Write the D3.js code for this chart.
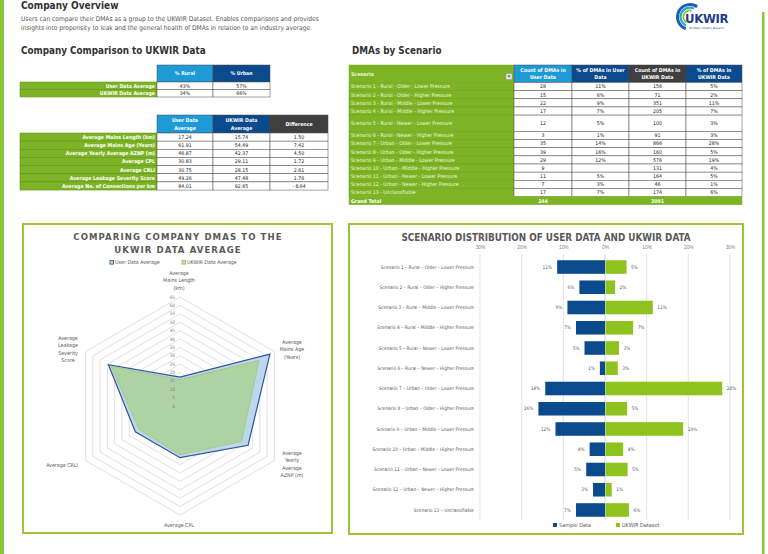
<!DOCTYPE html>
<html>
<head>
<meta charset="utf-8">
<title>Company Overview</title>
<script src="https://cdnjs.cloudflare.com/ajax/libs/d3/7.8.5/d3.min.js"></script>
<style>
    body { margin: 0; background: #fff; }
    svg { display: block; font-family: "DejaVu Sans Condensed", "DejaVu Sans", sans-serif; }
</style>
</head>
<body>
<svg id="page" width="768" height="554"></svg>
<script>
// ---- data ----
const ruralUrbanRows = ["User Data Average", "UKWIR Data Average"];
const pctRural = ["43%", "34%"];
const pctUrban = ["57%", "66%"];

const metricNames = [
    "Average Mains Length (km)",
    "Average Mains Age (Years)",
    "Average Yearly Average AZNP (m)",
    "Average CPL",
    "Average CRLI",
    "Average Leakage Severity Score",
    "Average No. of Connections per km"
];
const userAvg = [17.24, 61.91, 46.87, 30.83, 30.75, 49.26, 84.01];
const ukwirAvg = [15.74, 54.49, 42.37, 29.11, 28.15, 47.48, 92.65];
const avgDiff = [1.50, 7.42, 4.50, 1.72, 2.61, 1.76, -8.64];

const scenarios = [
    "Scenario 1 – Rural – Older – Lower Pressure",
    "Scenario 2 – Rural – Older – Higher Pressure",
    "Scenario 3 – Rural – Middle – Lower Pressure",
    "Scenario 4 – Rural – Middle – Higher Pressure",
    "Scenario 5 – Rural – Newer – Lower Pressure",
    "Scenario 6 – Rural – Newer – Higher Pressure",
    "Scenario 7 – Urban – Older – Lower Pressure",
    "Scenario 8 – Urban – Older – Higher Pressure",
    "Scenario 9 – Urban – Middle – Lower Pressure",
    "Scenario 10 – Urban – Middle – Higher Pressure",
    "Scenario 11 – Urban – Newer – Lower Pressure",
    "Scenario 12 – Urban – Newer – Higher Pressure",
    "Scenario 13 – Unclassifiable"
];
const userCount = [28, 15, 22, 17, 12, 3, 35, 39, 29, 9, 11, 7, 17];
const userPct = ["11%", "6%", "9%", "7%", "5%", "1%", "14%", "16%", "12%", "", "5%", "3%", "7%"];
const ukwirCount = [156, 71, 351, 205, 100, 91, 866, 160, 576, 131, 164, 46, 174];
const ukwirPct = ["5%", "2%", "11%", "7%", "3%", "3%", "28%", "5%", "19%", "4%", "5%", "1%", "6%"];
const totalUser = 244;
const totalUkwir = 3091;

// radar uses the first six metrics
const radarUser = userAvg.slice(0, 6);
const radarUkwir = ukwirAvg.slice(0, 6);
const radarTicks = [0, 5, 10, 15, 20, 25, 30, 35, 40, 45, 50, 55, 60, 65];
const barTicks = [-0.3, -0.2, -0.1, 0, 0.1, 0.2, 0.3];

// ---- styles ----
const GREEN = "#7db425";
const LIME = "#8dc21f";
const LBLUE = "#1e9ad6";
const DBLUE = "#0c4a8e";
const DGRAY = "#3f3f3f";
const FRAME = "#9cc53b";

const svg = d3.select("#page");

function lines(g, x, y, arr, lh, attrs) {
    const t = g.append("text").attr("x", x).attr("y", y);
    Object.entries(attrs || {}).forEach(([k, v]) => t.attr(k, v));
    arr.forEach((s, i) => t.append("tspan").attr("x", x).attr("dy", i ? lh : 0).text(s));
    return t;
}

// page frame
svg.append("rect").attr("x", 0).attr("y", 0).attr("width", 4).attr("height", 554).attr("fill", "#8cc43c");
svg.append("rect").attr("x", 762).attr("y", 12).attr("width", 2.5).attr("height", 542).attr("fill", "#8cc43c");

// headings
svg.append("text").attr("x", 21).attr("y", 9).attr("font-size", 10).attr("font-weight", "bold")
    .attr("fill", "#333").text("Company Overview");
lines(svg, 21, 21, [
    "Users can compare their DMAs as a group to the UKWIR Dataset. Enables comparisons and provides",
    "insights into propensity to leak and the general health of DMAs in relation to an industry average."
], 9, { "font-size": 6.6, fill: "#555" });
svg.append("text").attr("x", 21).attr("y", 54).attr("font-size", 9.8).attr("font-weight", "bold")
    .attr("fill", "#333").text("Company Comparison to UKWIR Data");
svg.append("text").attr("x", 352).attr("y", 54).attr("font-size", 9.8).attr("font-weight", "bold")
    .attr("fill", "#333").text("DMAs by Scenario");

// logo: swoosh arcs opening to the right
const logo = svg.append("g").attr("transform", "translate(690,17)");
const deg = Math.PI / 180;
[[14, 3, "#1d5fae", 200, 395], [10.5, 2.2, "#27a7d9", 205, 385], [7.5, 1.8, LIME, 212, 372]]
    .forEach(([r, w, c, a0, a1]) => {
        logo.append("path").attr("fill", c)
            .attr("d", d3.arc()({ innerRadius: r - w, outerRadius: r, startAngle: a0 * deg, endAngle: a1 * deg }));
    });
svg.append("text").attr("x", 685).attr("y", 23).attr("font-size", 13).attr("font-weight", "bold")
    .attr("fill", "#1f3d8c").attr("letter-spacing", -0.3).text("UKWIR");
svg.append("text").attr("x", 689).attr("y", 29).attr("font-size", 2.8)
    .attr("fill", "#1f3d8c").text("UK Water Industry Research");

// ---- tables ----
function cell(g, x0, x1, y, h, fill, str, opts) {
    opts = opts || {};
    g.append("rect").attr("x", x0).attr("y", y).attr("width", x1 - x0).attr("height", h)
        .attr("fill", fill).attr("stroke", opts.stroke || "#4a4a4a").attr("stroke-width", opts.sw || 0.5);
    if (!str) return;
    const arr = Array.isArray(str) ? str : [str];
    const anchor = opts.anchor || "middle";
    const tx = anchor === "middle" ? (x0 + x1) / 2 : anchor === "end" ? x1 - 2 : x0 + 2;
    const fs = opts.fs || 5.2;
    const lh = fs * 1.45;
    const ty = y + h / 2 - (arr.length - 1) * lh / 2 + fs * 0.36;
    lines(g, tx, ty, arr, lh, {
        "font-size": fs, "text-anchor": anchor, fill: opts.color || "#222",
        "font-weight": opts.bold ? "bold" : "normal"
    });
}

const t1 = svg.append("g");
const c1 = [20, 157, 213, 270];
cell(t1, c1[1], c1[2], 65, 17, LBLUE, "% Rural", { color: "#fff", bold: true });
cell(t1, c1[2], c1[3], 65, 17, DBLUE, "% Urban", { color: "#fff", bold: true });
ruralUrbanRows.forEach((r, i) => {
    const y = 82 + i * 7.5;
    cell(t1, c1[0], c1[1], y, 7.5, GREEN, r, { anchor: "end", color: "#fff", bold: true, stroke: "#5d8a17" });
    cell(t1, c1[1], c1[2], y, 7.5, "#fff", pctRural[i]);
    cell(t1, c1[2], c1[3], y, 7.5, "#fff", pctUrban[i]);
});

const t2 = svg.append("g");
const c2 = [20, 157, 213, 270, 328];
cell(t2, c2[1], c2[2], 115, 18, LBLUE, ["User Data", "Average"], { color: "#fff", bold: true });
cell(t2, c2[2], c2[3], 115, 18, DBLUE, ["UKWIR Data", "Average"], { color: "#fff", bold: true });
cell(t2, c2[3], c2[4], 115, 18, DGRAY, "Difference", { color: "#fff", bold: true });
metricNames.forEach((m, i) => {
    const y = 133 + i * 8.15;
    cell(t2, c2[0], c2[1], y, 8.15, GREEN, m, { anchor: "end", color: "#fff", bold: true, stroke: "#5d8a17" });
    cell(t2, c2[1], c2[2], y, 8.15, "#fff", userAvg[i].toFixed(2));
    cell(t2, c2[2], c2[3], y, 8.15, "#fff", ukwirAvg[i].toFixed(2));
    cell(t2, c2[3], c2[4], y, 8.15, "#fff", avgDiff[i].toFixed(2).replace("-", "- "));
});

const t3 = svg.append("g");
const c3 = [349, 514, 572, 629, 686, 742];
cell(t3, c3[0], c3[1], 65, 17.5, GREEN, "Scenario", { anchor: "start", color: "#f0f8e0", bold: true, stroke: GREEN });
t3.append("rect").attr("x", 506).attr("y", 73.5).attr("width", 6).attr("height", 6)
    .attr("fill", "#e6e6e6").attr("stroke", "#888").attr("stroke-width", 0.4);
t3.append("path").attr("d", "M507.5,75.5 L510.5,75.5 L509,77.5 Z").attr("fill", "#444");
cell(t3, c3[1], c3[2], 65, 17.5, LBLUE, ["Count of DMAs in", "User Data"], { color: "#fff", bold: true });
cell(t3, c3[2], c3[3], 65, 17.5, DBLUE, ["% of DMAs in User", "Data"], { color: "#fff", bold: true });
cell(t3, c3[3], c3[4], 65, 17.5, DGRAY, ["Count of DMAs in", "UKWIR Data"], { color: "#fff", bold: true });
cell(t3, c3[4], c3[5], 65, 17.5, DBLUE, ["% of DMAs in", "UKWIR Data"], { color: "#fff", bold: true });
let ry = 82.5;
scenarios.forEach((s, i) => {
    const h = i === 4 ? 16.3 : 8.15;
    cell(t3, c3[0], c3[1], ry, h, GREEN, s.replace(/–/g, "-"), { anchor: "start", color: "#eef7dc", stroke: "#6a9c1c" });
    cell(t3, c3[1], c3[2], ry, h, "#fff", String(userCount[i]));
    cell(t3, c3[2], c3[3], ry, h, "#fff", userPct[i]);
    cell(t3, c3[3], c3[4], ry, h, "#fff", String(ukwirCount[i]));
    cell(t3, c3[4], c3[5], ry, h, "#fff", ukwirPct[i]);
    ry += h;
});
cell(t3, c3[0], c3[5], ry, 8.15, GREEN, "Grand Total", { anchor: "start", color: "#fff", bold: true, stroke: GREEN });
cell(t3, c3[1], c3[2], ry, 8.15, "none", String(totalUser), { color: "#fff", bold: true, stroke: "none" });
cell(t3, c3[3], c3[4], ry, 8.15, "none", String(totalUkwir), { color: "#fff", bold: true, stroke: "none" });

// ---- radar chart ----
const rp = svg.append("g");
rp.append("rect").attr("x", 23).attr("y", 224).attr("width", 309).attr("height", 309)
    .attr("fill", "#fff").attr("stroke", FRAME).attr("stroke-width", 2);
lines(rp, 178, 240, ["COMPARING COMPANY DMAS TO THE", "UKWIR DATA AVERAGE"], 12.5, {
    "font-size": 9.5, "font-weight": "bold", "text-anchor": "middle", fill: "#595959", "letter-spacing": 1.1
});
// legend
rp.append("rect").attr("x", 110).attr("y", 260.5).attr("width", 3.6).attr("height", 3.6)
    .attr("fill", "#bdd7ee").attr("stroke", "#2f5597").attr("stroke-width", 0.8);
rp.append("text").attr("x", 115).attr("y", 264).attr("font-size", 5.3).attr("fill", "#595959").text("User Data Average");
rp.append("rect").attr("x", 182).attr("y", 260.5).attr("width", 3.6).attr("height", 3.6)
    .attr("fill", "#c5e0b4").attr("stroke", "#8fbf5f").attr("stroke-width", 0.8);
rp.append("text").attr("x", 187).attr("y", 264).attr("font-size", 5.3).attr("fill", "#595959").text("UKWIR Data Average");

const cx = 180, cy = 406;
const rScale = d3.scaleLinear().domain([0, 65]).range([0, 109]);
const nAx = radarUser.length;
const ang = i => i * 2 * Math.PI / nAx;
const radial = d3.lineRadial().angle((d, i) => ang(i)).radius(d => rScale(d)).curve(d3.curveLinearClosed);
const rg = rp.append("g").attr("transform", `translate(${cx},${cy})`);

radarTicks.slice(1).forEach(t => {
    rg.append("path").attr("d", radial(d3.range(nAx).map(() => t)))
        .attr("fill", "none").attr("stroke", "#d9d9d9").attr("stroke-width", 0.8);
});
rg.append("path").attr("d", radial(radarUser))
    .attr("fill", "#bdd7ee").attr("stroke", "#2f5597").attr("stroke-width", 1.2);
rg.append("path").attr("d", radial(radarUkwir))
    .attr("fill", "#a9d18e").attr("fill-opacity", 0.78).attr("stroke", "#9bc97a").attr("stroke-width", 0.8);
radarTicks.forEach(t => {
    rg.append("text").attr("x", -5).attr("y", -rScale(t) + 1.6).attr("text-anchor", "end")
        .attr("font-size", 4.6).attr("fill", "#7f7f7f").text(t);
});

const axisLabels = [
    { l: ["Average", "Mains Length", "(km)"], x: 179, y: 275 },
    { l: ["Average", "Mains Age", "(Years)"], x: 292, y: 344 },
    { l: ["Average", "Yearly", "Average", "AZNP (m)"], x: 292, y: 455 },
    { l: ["Average CPL"], x: 179, y: 527 },
    { l: ["Average CRLI"], x: 62, y: 467 },
    { l: ["Average", "Leakage", "Severity", "Score"], x: 68, y: 340 }
];
axisLabels.forEach(a => lines(rp, a.x, a.y, a.l, 7.3, { "font-size": 5.3, "text-anchor": "middle", fill: "#595959" }));

// ---- bar chart ----
const bp = svg.append("g");
bp.append("rect").attr("x", 349).attr("y", 224).attr("width", 394).attr("height", 310)
    .attr("fill", "#fff").attr("stroke", FRAME).attr("stroke-width", 2);
bp.append("text").attr("x", 546).attr("y", 241).attr("text-anchor", "middle").attr("font-size", 9.8)
    .attr("font-weight", "bold").attr("fill", "#595959").text("SCENARIO DISTRIBUTION OF USER DATA AND UKWIR DATA");

const x = d3.scaleLinear().domain([-0.3, 0.3]).range([480, 730]);
const y = d3.scaleBand().domain(scenarios).range([257, 520]).paddingInner(0.33).paddingOuter(0.16);
const userShare = userCount.map(c => c / totalUser);
const ukwirShare = ukwirCount.map(c => c / totalUkwir);
const pctFmt = d3.format(".0%");

bp.append("g").selectAll("line").data(barTicks).join("line")
    .attr("x1", d => x(d)).attr("x2", d => x(d)).attr("y1", 254).attr("y2", 520)
    .attr("stroke", d => d === 0 ? "#b4c7e7" : "#d9d9d9").attr("stroke-width", 0.7);

const ax = bp.append("g").attr("transform", "translate(0,252)")
    .call(d3.axisTop(x).tickValues(barTicks).tickSize(0).tickFormat(d => Math.round(Math.abs(d) * 100) + "%"));
ax.select(".domain").remove();
ax.selectAll("text").attr("font-size", 4.8).attr("fill", "#7f7f7f").attr("font-family", null);

bp.append("g").selectAll("rect").data(scenarios).join("rect")
    .attr("x", (d, i) => x(-userShare[i])).attr("y", d => y(d))
    .attr("width", (d, i) => x(0) - x(-userShare[i])).attr("height", y.bandwidth())
    .attr("fill", DBLUE);
bp.append("g").selectAll("rect").data(scenarios).join("rect")
    .attr("x", x(0) + 0.5).attr("y", d => y(d))
    .attr("width", (d, i) => x(ukwirShare[i]) - x(0)).attr("height", y.bandwidth())
    .attr("fill", LIME);

const lblY = d => y(d) + y.bandwidth() / 2 + 1.7;
bp.append("g").selectAll("text").data(scenarios).join("text")
    .attr("x", (d, i) => x(-userShare[i]) - 5).attr("y", lblY).attr("text-anchor", "end")
    .attr("font-size", 4.8).attr("fill", "#595959").text((d, i) => pctFmt(userShare[i]));
bp.append("g").selectAll("text").data(scenarios).join("text")
    .attr("x", (d, i) => x(ukwirShare[i]) + 5).attr("y", lblY)
    .attr("font-size", 4.8).attr("fill", "#595959").text((d, i) => pctFmt(ukwirShare[i]));
bp.append("g").selectAll("text").data(scenarios).join("text")
    .attr("x", 474).attr("y", lblY).attr("text-anchor", "end")
    .attr("font-size", 4.8).attr("fill", "#595959").text(d => d);

bp.append("rect").attr("x", 553).attr("y", 523).attr("width", 4).attr("height", 4).attr("fill", DBLUE);
bp.append("text").attr("x", 559).attr("y", 527).attr("font-size", 5.5).attr("fill", "#595959").text("Sample Data");
bp.append("rect").attr("x", 616).attr("y", 523).attr("width", 4).attr("height", 4).attr("fill", LIME);
bp.append("text").attr("x", 622).attr("y", 527).attr("font-size", 5.5).attr("fill", "#595959").text("UKWIR Dataset");
</script>
</body>
</html>
